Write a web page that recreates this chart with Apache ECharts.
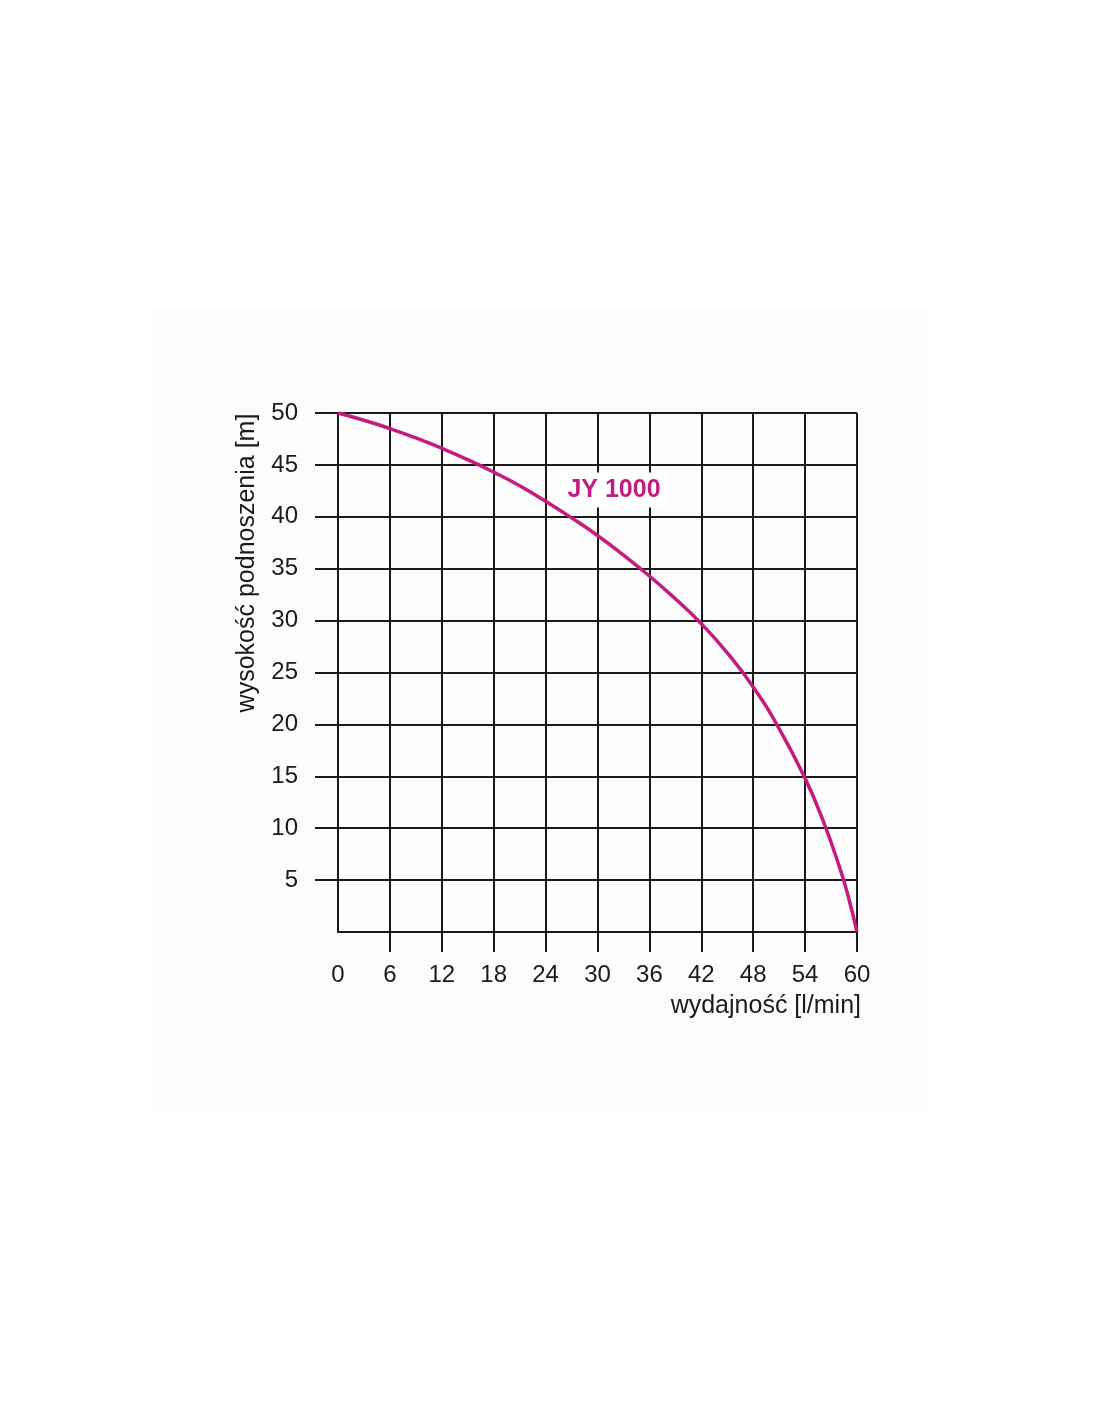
<!DOCTYPE html>
<html>
<head>
<meta charset="utf-8">
<script src="https://cdn.jsdelivr.net/npm/echarts@6/dist/echarts.min.js"></script>
<style>
html,body{margin:0;padding:0;background:#ffffff;}
#chart{width:1100px;height:1422px;}
</style>
</head>
<body>
<div id="chart"></div>
<script>
// Data
var flow = [0, 3, 6, 9, 12, 15, 18, 21, 24, 27, 30, 33, 36, 39, 42, 45, 48, 51, 54, 56, 58, 59, 60];
var head = [50, 49.3, 48.5, 47.6, 46.6, 45.5, 44.3, 43.0, 41.5, 39.9, 38.2, 36.3, 34.3, 32.1, 29.7, 26.9, 23.6, 19.6, 14.8, 10.9, 6.2, 3.4, 0];
var xTickValues = [0, 6, 12, 18, 24, 30, 36, 42, 48, 54, 60];
var yTickValues = [5, 10, 15, 20, 25, 30, 35, 40, 45, 50];
var seriesName = 'JY 1000';
var xName = 'wydajność [l/min]';
var yName = 'wysokość podnoszenia [m]';

var pink = '#c41c7e';
var ink = '#1a1a1a';
var font = "'Liberation Sans', Arial, sans-serif";

var chart = echarts.init(document.getElementById('chart'), null, {renderer: 'canvas'});
chart.setOption({
  backgroundColor: '#ffffff',
  animation: false,
  graphic: [
    {type: 'rect', z: -10, shape: {x: 152, y: 310, width: 776, height: 802}, style: {fill: '#fcfcfc'}},
    {type: 'text', x: 247, y: 563, rotation: Math.PI / 2,
     style: {text: yName, fill: ink, font: "25px " + font, align: 'center', verticalAlign: 'middle'}},
    {type: 'text', x: 861, y: 1006,
     style: {text: xName, fill: ink, font: "25px " + font, align: 'right', verticalAlign: 'middle'}},
    {type: 'text', x: 614, y: 490, z: 10,
     style: {text: seriesName, fill: pink, font: "bold 25px " + font, align: 'center', verticalAlign: 'middle',
             backgroundColor: '#ffffff', padding: [5, 8, 5, 8]}}
  ],
  grid: {left: 338, top: 413, width: 519, height: 519, containLabel: false},
  xAxis: {
    type: 'value', min: 0, max: 60, interval: 6,
    axisLine: {show: true, onZero: false, lineStyle: {color: ink, width: 2}},
    axisTick: {show: true, length: 20, customValues: [6, 12, 18, 24, 30, 36, 42, 48, 54, 60], lineStyle: {color: ink, width: 2}},
    axisLabel: {customValues: xTickValues, margin: 31, color: ink, fontSize: 24, fontFamily: font},
    splitLine: {show: true, lineStyle: {color: ink, width: 2}}
  },
  yAxis: {
    type: 'value', min: 0, max: 50, interval: 5,
    axisLine: {show: true, onZero: false, lineStyle: {color: ink, width: 2}},
    axisTick: {show: true, length: 23, customValues: yTickValues, lineStyle: {color: ink, width: 2}},
    axisLabel: {customValues: yTickValues, margin: 40, color: ink, fontSize: 24, fontFamily: font},
    splitLine: {show: true, lineStyle: {color: ink, width: 2}}
  },
  series: [{
    name: seriesName,
    type: 'line',
    smooth: 0.5,
    symbol: 'none',
    lineStyle: {color: pink, width: 3.5},
    data: flow.map(function (f, i) { return [f, head[i]]; }),
    z: 5
  }]
});
</script>
</body>
</html>
